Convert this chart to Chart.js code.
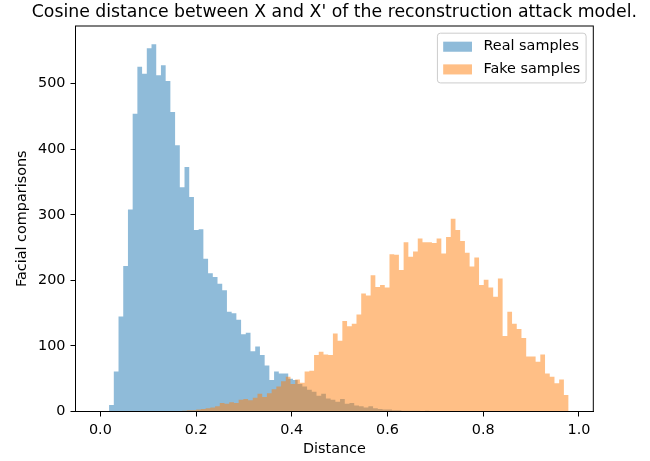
<!DOCTYPE html>
<html>
<head>
<meta charset="utf-8">
<script src="https://cdn.jsdelivr.net/npm/chart.js@4.4.0/dist/chart.umd.min.js"></script>
<style>
html, body { margin: 0; padding: 0; background: #fff; }
#wrap { width: 650px; height: 461px; }
</style>
</head>
<body>
<div id="wrap"><canvas id="hist"></canvas></div>
<script>
var titleText = "Cosine distance between X and X' of the reconstruction attack model.";
var seriesNames = ["Real samples", "Fake samples"];
var xTicks = [0.0, 0.2, 0.4, 0.6, 0.8, 1.0];
var yTicks = [0, 100, 200, 300, 400, 500];

// bin layout (first edge, bin width)
var realStart = -0.0015, realWidth = 0.00985;
var fakeStart = 0.1707, fakeWidth = 0.00985;

var realCounts = [0, 0, 10, 61, 145, 222, 308, 454, 526, 515,
    554, 560, 513, 528, 504, 457, 406, 342, 373, 327,
    277, 278, 233, 211, 205, 195, 185, 152, 150, 140,
    118, 120, 92, 99, 86, 70, 48, 61, 58, 58,
    50, 48, 42, 38, 33, 30, 24, 27, 20, 18,
    15, 19, 12, 13, 9, 8, 6, 8, 5, 4,
    3, 3, 2, 2, 1, 1, 1, 1, 0, 1];

var fakeCounts = [1, 2, 2, 3, 4, 5, 6, 8, 13, 12,
    14, 13, 18, 19, 17, 21, 27, 22, 28, 34,
    38, 46, 53, 42, 49, 44, 61, 62, 86, 91,
    87, 86, 119, 108, 138, 130, 134, 148, 180, 177,
    208, 190, 193, 189, 240, 239, 216, 258, 236, 244,
    264, 258, 258, 257, 264, 241, 266, 294, 277, 260,
    242, 221, 235, 193, 201, 189, 175, 203, 115, 152,
    134, 126, 112, 84, 84, 76, 87, 58, 53, 43, 49, 25];

var realColor = "rgba(31, 119, 180, 0.5)";
var fakeColor = "rgba(255, 127, 14, 0.5)";
var fontFamily = "'DejaVu Sans', sans-serif";
var fontSize = 14.4;

// one point per bin edge, value held until the next edge
function stepPoints(start, width, counts) {
    var pts = [];
    for (var i = 0; i < counts.length; i++) {
        pts.push({x: start + i * width, y: counts[i]});
    }
    pts.push({x: start + counts.length * width, y: 0});
    return pts;
}

// frame, title and legend box like matplotlib
var decor = {
    id: "decor",
    beforeDraw: function(chart) {
        var ctx = chart.ctx;
        ctx.save();
        ctx.fillStyle = "#fff";
        ctx.fillRect(0, 0, chart.width, chart.height);
        ctx.restore();
    },
    afterDraw: function(chart) {
        var ctx = chart.ctx, a = chart.chartArea;
        ctx.save();
        ctx.strokeStyle = "#000";
        ctx.lineWidth = 1;
        ctx.strokeRect(a.left, a.top, a.right - a.left, a.bottom - a.top);

        ctx.fillStyle = "#000";
        ctx.font = "17.3px " + fontFamily;
        ctx.textAlign = "center";
        ctx.textBaseline = "alphabetic";
        ctx.fillText(titleText, (a.left + a.right) / 2, a.top - 8.6);

        var em = fontSize, pad = 0.4 * em, handleLen = 2 * em, textPad = 0.8 * em;
        var rowH = 15.5, spacing = 0.5 * em;
        ctx.font = em + "px " + fontFamily;
        var maxW = 0;
        chart.data.datasets.forEach(function(ds) {
            maxW = Math.max(maxW, ctx.measureText(ds.label).width);
        });
        var boxW = pad * 2 + handleLen + textPad + maxW;
        var boxH = pad * 2 + rowH * 2 + spacing;
        var boxR = a.right - 0.5 * em, boxT = a.top + 0.5 * em;
        var boxL = boxR - boxW;
        ctx.beginPath();
        ctx.roundRect(boxL, boxT, boxW, boxH, 3);
        ctx.fillStyle = "rgba(255,255,255,0.8)";
        ctx.fill();
        ctx.strokeStyle = "#cccccc";
        ctx.stroke();

        ctx.textAlign = "left";
        ctx.textBaseline = "middle";
        chart.data.datasets.forEach(function(ds, i) {
            var cy = boxT + pad + rowH / 2 + i * (rowH + spacing);
            ctx.fillStyle = ds.backgroundColor;
            ctx.fillRect(boxL + pad, cy - 0.35 * em, handleLen, 0.7 * em);
            ctx.fillStyle = "#000";
            ctx.fillText(ds.label, boxL + pad + handleLen + textPad, cy);
        });
        ctx.restore();
    }
};

new Chart(document.getElementById("hist"), {
    type: "line",
    data: {
        datasets: [
            {
                label: seriesNames[0],
                data: stepPoints(realStart, realWidth, realCounts),
                backgroundColor: realColor,
                borderColor: "rgba(0,0,0,0)",
                borderWidth: 0,
                fill: "origin",
                stepped: "before",
                pointRadius: 0,
                order: 1
            },
            {
                label: seriesNames[1],
                data: stepPoints(fakeStart, fakeWidth, fakeCounts),
                backgroundColor: fakeColor,
                borderColor: "rgba(0,0,0,0)",
                borderWidth: 0,
                fill: "origin",
                stepped: "before",
                pointRadius: 0,
                order: 0
            }
        ]
    },
    options: {
        responsive: true,
        maintainAspectRatio: false,
        devicePixelRatio: 1,
        animation: false,
        layout: { padding: { top: 26, right: 56.7, left: 0, bottom: 0 } },
        plugins: {
            legend: { display: false },
            tooltip: { enabled: false },
            title: { display: false }
        },
        scales: {
            x: {
                type: "linear",
                min: -0.052,
                max: 1.030,
                afterBuildTicks: function(s) { s.ticks = xTicks.map(function(v) { return {value: v}; }); },
                afterFit: function(s) { s.height = 461 - 411.5; },
                ticks: {
                    callback: function(v) { return v.toFixed(1); },
                    font: { family: fontFamily, size: fontSize },
                    color: "#000",
                    padding: 5,
                    maxRotation: 0,
                    autoSkip: false
                },
                grid: { drawOnChartArea: false, drawTicks: true, tickLength: 5, tickColor: "#000" },
                border: { display: true, color: "#000", width: 1 },
                title: {
                    display: true,
                    text: "Distance",
                    font: { family: fontFamily, size: fontSize },
                    color: "#000",
                    padding: { top: 0, bottom: 3.4 }
                }
            },
            y: {
                min: 0,
                max: 588,
                afterBuildTicks: function(s) { s.ticks = yTicks.map(function(v) { return {value: v}; }); },
                afterFit: function(s) { s.width = 75.5; },
                ticks: {
                    font: { family: fontFamily, size: fontSize },
                    color: "#000",
                    padding: 5
                },
                grid: { drawOnChartArea: false, drawTicks: true, tickLength: 5, tickColor: "#000" },
                border: { display: true, color: "#000", width: 1 },
                title: {
                    display: true,
                    text: "Facial comparisons",
                    font: { family: fontFamily, size: fontSize },
                    color: "#000",
                    padding: { top: 13.4, bottom: 0 }
                }
            }
        }
    },
    plugins: [decor]
});
</script>
</body>
</html>
